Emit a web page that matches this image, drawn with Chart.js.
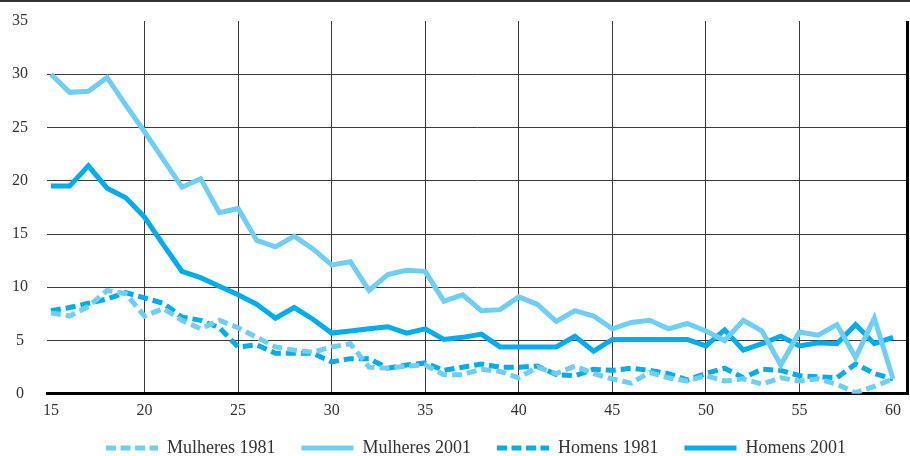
<!DOCTYPE html>
<html>
<head>
<meta charset="utf-8">
<script src="https://cdn.jsdelivr.net/npm/chart.js@4"></script>
<style>
  html, body { margin: 0; padding: 0; background: #fff; }
</style>
</head>
<body>
<canvas id="idadeChart" width="910" height="456"></canvas>
<script>
// ages on the x axis (one point per year)
const ages = [15, 16, 17, 18, 19, 20, 21, 22, 23, 24, 25, 26, 27, 28, 29, 30,
  31, 32, 33, 34, 35, 36, 37, 38, 39, 40, 41, 42, 43, 44, 45,
  46, 47, 48, 49, 50, 51, 52, 53, 54, 55, 56, 57, 58, 59, 60];

const xTicks = [15, 20, 25, 30, 35, 40, 45, 50, 55, 60];
const yTicks = [0, 5, 10, 15, 20, 25, 30, 35];

const mulheres1981 = [7.6, 7.3, 8.2, 9.7, 9.4, 7.3, 8.0, 6.9, 6.1, 6.9, 6.2, 5.3, 4.4, 4.1, 3.9, 4.4,
  4.7, 2.5, 2.4, 2.6, 2.7, 1.8, 1.8, 2.3, 2.1, 1.5, 2.5, 1.9, 2.6, 1.9, 1.4,
  1.0, 2.0, 1.5, 1.2, 1.7, 1.2, 1.4, 0.9, 1.5, 1.2, 1.4, 0.9, 0.1, 0.7, 1.4];

const mulheres2001 = [30.0, 28.3, 28.4, 29.7, 27.1, 24.6, 22.0, 19.4, 20.2, 17.0, 17.4, 14.4, 13.8, 14.8, 13.6, 12.1,
  12.4, 9.7, 11.2, 11.6, 11.5, 8.7, 9.3, 7.8, 7.9, 9.1, 8.4, 6.8, 7.8, 7.3, 6.1,
  6.7, 6.9, 6.1, 6.6, 5.9, 5.0, 6.9, 5.9, 2.7, 5.8, 5.5, 6.5, 3.4, 7.1, 1.4];

const homens1981 = [7.8, 8.1, 8.5, 8.9, 9.5, 9.0, 8.5, 7.2, 6.9, 6.2, 4.4, 4.6, 3.8, 3.8, 3.8, 3.0,
  3.3, 3.3, 2.4, 2.7, 2.9, 2.2, 2.5, 2.8, 2.5, 2.5, 2.6, 1.8, 1.7, 2.3, 2.2,
  2.4, 2.2, 1.9, 1.3, 1.9, 2.4, 1.5, 2.3, 2.2, 1.7, 1.6, 1.5, 2.8, 1.9, 1.4];

const homens2001 = [19.5, 19.5, 21.4, 19.3, 18.4, 16.6, 14.0, 11.5, 10.9, 10.1, 9.3, 8.4, 7.1, 8.1, 7.0, 5.7,
  5.9, 6.1, 6.3, 5.7, 6.1, 5.1, 5.3, 5.6, 4.4, 4.4, 4.4, 4.4, 5.4, 4.0, 5.1,
  5.1, 5.1, 5.1, 5.1, 4.5, 6.0, 4.1, 4.7, 5.4, 4.5, 4.8, 4.7, 6.5, 4.7, 5.3];

const lightBlue = "#6dcff6";
const darkBlue = "#00aeef";
const gridColor = "#3a3a3a";

Chart.defaults.font.family = '"Liberation Serif", "Times New Roman", serif';
Chart.defaults.font.size = 16;
Chart.defaults.color = "#333";

// top rule of the page, right frame line, and legend nudged into place
const framePlugin = {
  id: "frame",
  afterLayout(chart) {
    const lg = chart.legend;
    lg.left += 22;
    lg.right += 22;
    lg.top -= 14;
    lg.bottom -= 14;
  },
  afterDraw(chart) {
    const { ctx, chartArea } = chart;
    ctx.save();
    ctx.fillStyle = "#333";
    ctx.fillRect(0, 0, chart.width, 2);
    ctx.fillStyle = "#000";
    ctx.fillRect(chartArea.right - 2, chartArea.top, 3, chartArea.bottom - chartArea.top);
    ctx.restore();
  },
};

function line(label, data, color, dashed) {
  return {
    label: label,
    data: data,
    borderColor: color,
    backgroundColor: color,
    borderWidth: 5,
    borderDash: dashed ? [10, 5] : [],
    borderJoinStyle: "miter",
    borderCapStyle: "butt",
    pointRadius: 0,
    tension: 0,
    fill: false,
  };
}

const ctx = document.getElementById("idadeChart").getContext("2d");
new Chart(ctx, {
  type: "line",
  data: {
    labels: ages,
    datasets: [
      line("Mulheres 1981", mulheres1981, lightBlue, true),
      line("Mulheres 2001", mulheres2001, lightBlue, false),
      line("Homens 1981", homens1981, darkBlue, true),
      line("Homens 2001", homens2001, darkBlue, false),
    ],
  },
  options: {
    responsive: false,
    animation: false,
    devicePixelRatio: 1,
    layout: { padding: { top: 21, right: 2, left: 0, bottom: -25 } },
    scales: {
      x: {
        type: "linear",
        min: 14.79,
        max: 60.8,
        afterBuildTicks: (axis) => {
          axis.ticks = xTicks.map((v) => ({ value: v }));
        },
        ticks: { padding: 7, color: "#333", maxRotation: 0 },
        grid: {
          drawTicks: false,
          color: (c) => (c.tick && (c.tick.value === 15 || c.tick.value === 60) ? "rgba(0,0,0,0)" : gridColor),
          lineWidth: 1,
        },
        border: { display: true, color: "#000", width: 3 },
      },
      y: {
        min: 0,
        max: 35,
        afterBuildTicks: (axis) => {
          axis.ticks = yTicks.map((v) => ({ value: v }));
        },
        afterFit: (scale) => {
          scale.width = 47;
          scale.paddingTop = 10;
          scale.paddingBottom = 0;
        },
        ticks: { padding: 19, crossAlign: "center", color: "#333" },
        grid: {
          drawTicks: false,
          color: (c) => (c.tick && c.tick.value === 35 ? "rgba(0,0,0,0)" : gridColor),
          lineWidth: 1,
        },
        border: { display: false },
      },
    },
    plugins: {
      tooltip: { enabled: false },
      legend: {
        position: "bottom",
        labels: {
          usePointStyle: true,
          pointStyleWidth: 52,
          padding: 26,
          color: "#333",
          font: { size: 18 },
          generateLabels: (chart) =>
            chart.data.datasets.map((ds, i) => ({
              text: ds.label,
              strokeStyle: ds.borderColor,
              fillStyle: ds.borderColor,
              fontColor: "#333",
              lineWidth: 5,
              lineCap: "butt",
              lineDash: ds.borderDash.length ? [10, 4.5] : [],
              pointStyle: "line",
              hidden: false,
              datasetIndex: i,
            })),
        },
      },
    },
  },
  plugins: [framePlugin],
});
</script>
</body>
</html>
